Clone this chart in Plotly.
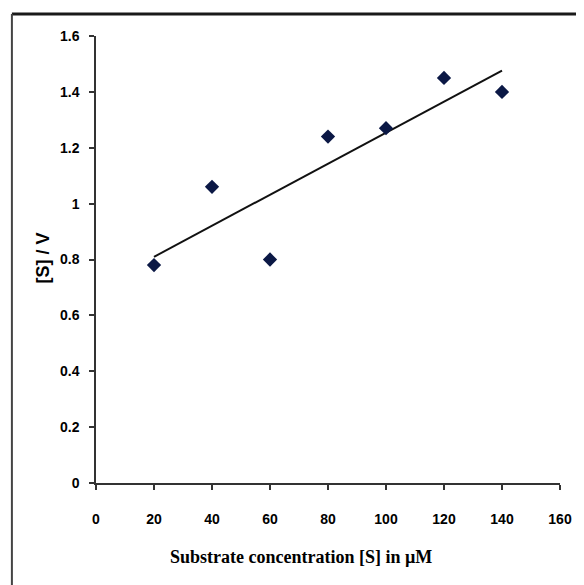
import numpy as np
import plotly.graph_objects as go

substrate = [20, 40, 60, 80, 100, 120, 140]
s_over_v = [0.78, 1.06, 0.80, 1.24, 1.27, 1.45, 1.40]
x_ticks = [0, 20, 40, 60, 80, 100, 120, 140, 160]
y_ticks = [0, 0.2, 0.4, 0.6, 0.8, 1.0, 1.2, 1.4, 1.6]
y_tick_text = ["0", "0.2", "0.4", "0.6", "0.8", "1", "1.2", "1.4", "1.6"]

# linear trendline (least squares)
slope, intercept = np.polyfit(substrate, s_over_v, 1)
trend_x = [min(substrate), max(substrate)]
trend_y = [slope * x + intercept for x in trend_x]

OFF = 8  # default page body margin
W, H = 584 - OFF, 585 - OFF
L, T = 96 - OFF, 36 - OFF
pw, ph = 469, 447
R, B = W - L - pw, H - T - ph


def px_x(p):
    return (p - OFF - L) / pw


def px_y(p):
    return (T + ph - (p - OFF)) / ph


fig = go.Figure()
fig.add_trace(go.Scatter(x=trend_x, y=trend_y, mode="lines",
                         line=dict(color="#111111", width=2), showlegend=False, hoverinfo="skip"))
fig.add_trace(go.Scatter(x=substrate, y=s_over_v, mode="markers",
                         marker=dict(symbol="diamond", size=11, color="#0b1845"),
                         showlegend=False))

tickfont = dict(family="Liberation Sans Narrow, Arial Narrow, Liberation Sans, Arial", size=14,
                color="#000000", weight="bold")

fig.update_layout(
    width=W, height=H,
    margin=dict(l=L, r=R, t=T, b=B, pad=0),
    paper_bgcolor="white", plot_bgcolor="white",
    xaxis=dict(range=[0, 160], tickvals=x_ticks, ticks="outside", ticklen=5, tickwidth=1.5,
               tickcolor="#333333", showline=True, linecolor="#333333", linewidth=1.5,
               showgrid=False, zeroline=False, tickfont=tickfont, ticklabelstandoff=17),
    yaxis=dict(range=[0, 1.6], tickvals=y_ticks, ticktext=y_tick_text, ticks="outside", ticklen=5,
               tickwidth=1.5, tickcolor="#333333", showline=True, linecolor="#333333", linewidth=1.5,
               showgrid=False, zeroline=False, tickfont=tickfont, ticklabelstandoff=7),
    annotations=[
        dict(text="<b>Substrate concentration [S] in µM</b>", xref="paper", yref="paper",
             x=px_x(303), y=px_y(557), xanchor="center", yanchor="middle", showarrow=False,
             font=dict(family="Liberation Serif, Times New Roman", size=18, color="#000000")),
        dict(text="<b>[S] / V</b>", xref="paper", yref="paper", textangle=-90,
             x=px_x(42), y=px_y(258), xanchor="center", yanchor="middle", showarrow=False,
             font=dict(family="Liberation Sans, Arial", size=18, color="#000000")),
    ],
    shapes=[
        dict(type="line", xref="paper", yref="paper", x0=px_x(11), x1=px_x(620),
             y0=px_y(14), y1=px_y(14), line=dict(color="#1a1a1a", width=3)),
        dict(type="line", xref="paper", yref="paper", x0=px_x(11), x1=px_x(11),
             y0=px_y(14), y1=px_y(620), line=dict(color="#444444", width=2)),
    ],
)

fig.write_html("out.html")
